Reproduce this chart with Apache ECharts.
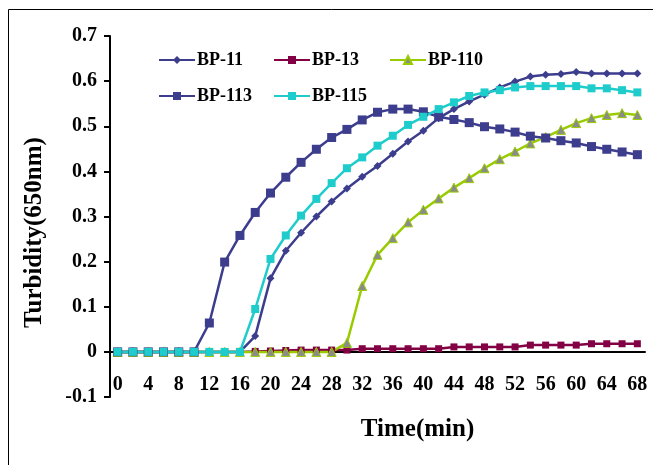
<!DOCTYPE html>
<html>
<head>
<meta charset="utf-8">
<script src="https://cdn.jsdelivr.net/npm/echarts@6/dist/echarts.min.js"></script>
<style>
html,body{margin:0;padding:0;background:#fff;}
#c{width:653px;height:465px;}
</style>
</head>
<body>
<div id="c"></div>
<script>
const times = ["0","2","4","6","8","10","12","14","16","18","20","22","24","26","28","30","32","34","36","38","40","42","44","46","48","50","52","54","56","58","60","62","64","66","68"];
const bp11  = [0,0,0,0,0,0,0,0,0,0.035,0.163,0.224,0.264,0.300,0.333,0.362,0.388,0.412,0.439,0.466,0.490,0.518,0.538,0.555,0.570,0.586,0.599,0.610,0.614,0.616,0.620,0.617,0.617,0.617,0.617];
const bp13  = [0,0,0,0,0,0,0,0,0,0.001,0.002,0.003,0.004,0.004,0.004,0.004,0.007,0.007,0.007,0.007,0.007,0.007,0.011,0.011,0.011,0.011,0.011,0.015,0.015,0.015,0.015,0.018,0.018,0.018,0.018];
const bp110 = [0,0,0,0,0,0,0,0,0,0,0,0,0,0,0,0.02,0.146,0.215,0.252,0.287,0.315,0.340,0.364,0.385,0.407,0.427,0.444,0.462,0.476,0.492,0.507,0.518,0.525,0.529,0.525];
const bp113 = [0,0,0,0,0,0,0.064,0.199,0.258,0.309,0.352,0.387,0.420,0.449,0.475,0.493,0.514,0.531,0.538,0.538,0.532,0.521,0.515,0.508,0.499,0.494,0.487,0.478,0.474,0.468,0.463,0.455,0.449,0.443,0.437];
const bp115 = [0,0,0,0,0,0,0,0,0,0.095,0.206,0.258,0.302,0.339,0.374,0.407,0.431,0.457,0.479,0.503,0.521,0.538,0.553,0.567,0.575,0.580,0.586,0.589,0.589,0.589,0.589,0.584,0.584,0.580,0.575];
const yTicks = {min:-0.1, max:0.7, step:0.1};

const FONT = '"Liberation Serif","Times New Roman",serif';
const navy = '#3d3d8e', maroon = '#820043', lime = '#99cc00', gray = '#8a8a8a', cyan = '#1fcccc';

function legendFor(name, left, top){
  return {data:[name], left:left, top:top, itemWidth:36, itemHeight:10, itemGap:0,
    textStyle:{fontFamily:FONT, fontWeight:'bold', fontSize:18, color:'#000', padding:[0,0,0,-3]}};
}

const chart = echarts.init(document.getElementById('c'), null, {renderer:'canvas'});
chart.setOption({
  animation:false,
  backgroundColor:'#fff',
  graphic:[{type:'rect', shape:{x:8.5, y:9.5, width:700, height:520}, style:{fill:'none', stroke:'#000', lineWidth:1}, silent:true}],
  legend:[
    legendFor('BP-11',153,46), legendFor('BP-13',268,46), legendFor('BP-110',384,46),
    legendFor('BP-113',153,82), legendFor('BP-115',268,82)
  ],
  grid:{left:110, top:36, width:535, height:361, containLabel:false, outerBoundsMode:'none'},
  xAxis:{
    type:'category', data:times, boundaryGap:true,
    axisLine:{onZero:true, lineStyle:{color:'#000', width:2}},
    axisTick:{show:false},
    axisLabel:{interval:1, margin:-22, fontFamily:FONT, fontWeight:'bold', fontSize:20, color:'#000'},
    name:'Time(min)', nameLocation:'middle', nameGap:20, nameMoveOverlap:false,
    nameTextStyle:{fontFamily:FONT, fontWeight:'bold', fontSize:25, color:'#000', padding:[0,0,0,80]},
    splitLine:{show:false}
  },
  yAxis:{
    type:'value', min:yTicks.min, max:yTicks.max, interval:yTicks.step,
    axisLine:{show:true, lineStyle:{color:'#000', width:2}},
    axisTick:{show:true, inside:false, length:6, lineStyle:{color:'#000', width:2}},
    axisLabel:{margin:13, fontFamily:FONT, fontWeight:'bold', fontSize:20, color:'#000',
      formatter:function(v){ var r=Math.round(v*10)/10; return r===0?'0':r.toFixed(1); }},
    splitLine:{show:false},
    name:'Turbidity(650nm)', nameLocation:'middle', nameGap:63, nameRotate:90, nameMoveOverlap:false,
    nameTextStyle:{fontFamily:FONT, fontWeight:'bold', fontSize:25, color:'#000', padding:[0,32,0,0]}
  },
  series:[
    {name:'BP-11', type:'line', data:bp11, symbol:'diamond', symbolSize:8, showAllSymbol:true,
      lineStyle:{color:navy, width:2.5}, itemStyle:{color:navy}},
    {name:'BP-13', type:'line', data:bp13, symbol:'rect', symbolSize:7, showAllSymbol:true,
      lineStyle:{color:maroon, width:2.5}, itemStyle:{color:maroon}},
    {name:'BP-110', type:'line', data:bp110, symbol:'triangle', symbolSize:9, showAllSymbol:true,
      lineStyle:{color:lime, width:2.5}, itemStyle:{color:gray, borderColor:lime, borderWidth:1}},
    {name:'BP-113', type:'line', data:bp113, symbol:'rect', symbolSize:9, showAllSymbol:true,
      lineStyle:{color:navy, width:2.5}, itemStyle:{color:navy}},
    {name:'BP-115', type:'line', data:bp115, symbol:'rect', symbolSize:8, showAllSymbol:true,
      lineStyle:{color:cyan, width:2.5}, itemStyle:{color:cyan}}
  ]
});
</script>
</body>
</html>
